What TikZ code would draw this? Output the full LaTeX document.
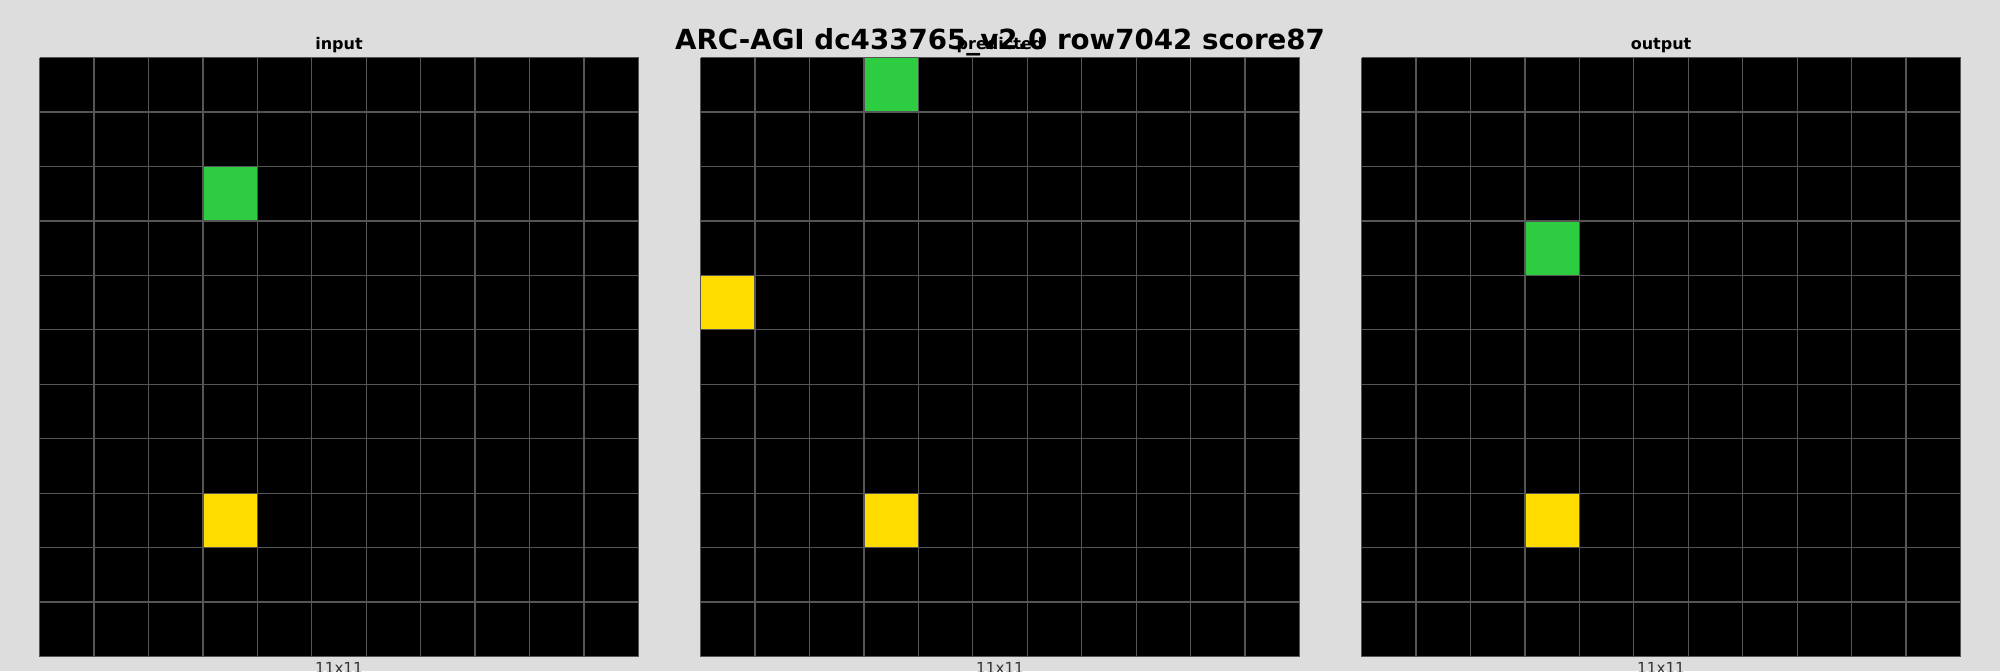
\documentclass[tikz,border=0pt]{standalone}
\usepackage{fontspec}
\setmainfont{DejaVu Sans}
\definecolor{arcbg}{HTML}{DDDDDD}
\definecolor{arcline}{HTML}{555555}
\definecolor{arcgreen}{HTML}{2ECC40}
\definecolor{arcyellow}{HTML}{FFDC00}
\definecolor{arcdim}{HTML}{333333}

% one cell: left edge of panel, column, row, colour
\newcommand{\arccell}[4]{\fill[#4] (#1+#2*54.4545,57.5+#3*54.4545) rectangle ++(54.4545,54.4545);}

\begin{document}
\begin{tikzpicture}[x=0.5pt,y=-0.5pt,
  maintitle/.style={font=\bfseries\fontsize{13.85}{16}\selectfont,anchor=base,inner sep=0pt},
  paneltitle/.style={font=\bfseries\fontsize{8}{10}\selectfont,anchor=base,inner sep=0pt},
  panelsize/.style={font=\fontsize{7.6}{9}\selectfont,text=arcdim,anchor=base,inner sep=0pt},
  gridline/.style={arcline,line width=0.65pt}]
\fill[arcbg] (0,0) rectangle (2000,671);
\useasboundingbox (0,0) rectangle (2000,671);
% panels
\foreach \px/\lbl/\nm in {39.5/input/in,700.5/predicted/pred,1361.5/output/out}{
  \fill[black] (\px,57.5) rectangle ++(599,599);
  \node[paneltitle] (\nm title) at (\px+299.5,49) {\lbl};
  \node[panelsize] (\nm size) at (\px+299.5,673.5) {11x11};
}
% coloured cells
\arccell{39.5}{3}{2}{arcgreen}
\arccell{39.5}{3}{8}{arcyellow}
\arccell{700.5}{3}{0}{arcgreen}
\arccell{700.5}{0}{4}{arcyellow}
\arccell{700.5}{3}{8}{arcyellow}
\arccell{1361.5}{3}{3}{arcgreen}
\arccell{1361.5}{3}{8}{arcyellow}
% grid lines
\foreach \px in {39.5,700.5,1361.5}{
  \foreach \i in {0,...,11}{
    \draw[gridline] (\px+\i*54.4545,57.5) -- ++(0,599);
    \draw[gridline] (\px,57.5+\i*54.4545) -- ++(599,0);
  }
}
\node[maintitle] (title) at (1000,49) {ARC-AGI dc433765\_v2.0 row7042 score87};
\end{tikzpicture}
\end{document}
